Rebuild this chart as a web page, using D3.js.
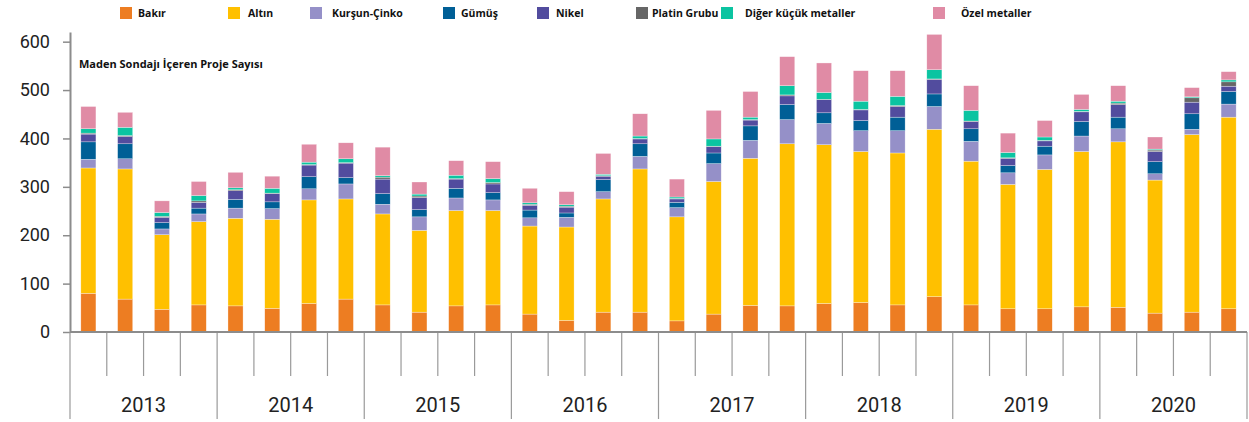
<!DOCTYPE html>
<html>
<head>
<meta charset="utf-8">
<script src="https://cdn.jsdelivr.net/npm/d3@7"></script>
<style>
    body { margin: 0; background: #fff; }
</style>
</head>
<body>
<div class="canvas"></div>
<script>
// kategoriler: yıl x çeyrek
const years = ["2013", "2014", "2015", "2016", "2017", "2018", "2019", "2020"];
const quarters = ["Q1", "Q2", "Q3", "Q4"];

const metals = ["Bakır", "Altın", "Kurşun-Çinko", "Gümüş", "Nikel", "Platin Grubu", "Diğer küçük metaller", "Özel metaller"];
const colors = ["#ED7D22", "#FFC000", "#9590C8", "#005F96", "#524C9E", "#666666", "#0BC4A1", "#E08BA5"];

// seriler (32 çeyrek)
const bakir  = [80, 68, 47, 56, 54, 49, 59, 68, 56, 41, 54, 56, 37, 24, 41, 41, 23, 37, 55, 54, 59, 61, 56, 73, 56, 48, 48, 52, 51, 39, 41, 48];
const altin  = [259, 269, 154, 172, 181, 184, 214, 207, 188, 169, 197, 195, 182, 193, 234, 296, 215, 274, 304, 335, 328, 312, 314, 346, 297, 257, 288, 321, 342, 275, 367, 396];
const kursun = [18, 21, 12, 16, 21, 22, 23, 31, 20, 28, 26, 22, 17, 20, 15, 26, 19, 37, 37, 50, 44, 43, 46, 47, 41, 24, 30, 32, 27, 13, 11, 27];
const gumus  = [36, 31, 13, 12, 18, 14, 25, 13, 22, 15, 20, 15, 16, 9, 25, 26, 11, 22, 30, 31, 22, 21, 28, 26, 26, 15, 18, 30, 24, 25, 32, 26];
const nikel  = [16, 15, 11, 12, 18, 17, 24, 30, 30, 25, 19, 18, 10, 12, 7, 10, 7, 13, 12, 18, 27, 22, 22, 30, 15, 15, 11, 20, 26, 21, 24, 11];
const platin = [2, 2, 2, 3, 2, 1, 1, 1, 4, 3, 1, 3, 2, 2, 1, 1, 1, 1, 1, 2, 1, 1, 2, 1, 1, 1, 1, 1, 3, 3, 9, 9];
const diger  = [9, 17, 8, 11, 4, 10, 5, 8, 3, 4, 7, 8, 3, 3, 3, 5, 3, 15, 5, 19, 14, 17, 19, 19, 22, 11, 7, 4, 4, 2, 2, 4];
const ozel   = [46, 31, 24, 29, 32, 25, 37, 33, 59, 25, 30, 35, 30, 27, 43, 46, 37, 59, 53, 60, 61, 63, 53, 73, 51, 40, 34, 31, 32, 25, 19, 17];

const yTicks = [0, 100, 200, 300, 400, 500, 600];

const series = [bakir, altin, kursun, gumus, nikel, platin, diger, ozel];

const W = 1249, H = 422;
const plotLeft = 70, plotRight = 1247, plotBottom = 332, plotTop = 32;

const svg = d3.select(".canvas")
    .append("svg")
    .attr("width", W)
    .attr("height", H);

// tablo: her çeyrek bir satır
const keys = years.flatMap(yr => quarters.map(q => yr + "-" + q));
const table = keys.map((k, i) => {
    const row = { key: k };
    metals.forEach((m, j) => { row[m] = series[j][i]; });
    return row;
});

const stacked = d3.stack().keys(metals)(table);

const x = d3.scaleBand().domain(keys).range([plotLeft, plotRight]).padding(0);
const xYear = d3.scaleBand().domain(years).range([plotLeft, plotRight]).padding(0);
const y = d3.scaleLinear().domain([0, 620]).range([plotBottom, plotTop]);

const barW = x.bandwidth() * 0.41;

// barlar
svg.append("g")
    .selectAll("g")
    .data(stacked)
    .join("g")
    .attr("fill", (d, i) => colors[i])
    .selectAll("rect")
    .data(d => d)
    .join("rect")
    .attr("x", d => x(d.data.key) + (x.bandwidth() - barW) / 2)
    .attr("y", d => y(d[1]))
    .attr("width", barW)
    .attr("height", d => y(d[0]) - y(d[1]))
    .attr("stroke", "#fff")
    .attr("stroke-opacity", 0.6)
    .attr("stroke-width", 0.5);

// y ekseni
const yAxis = svg.append("g")
    .attr("transform", `translate(${plotLeft},0)`)
    .call(d3.axisLeft(y).tickValues(yTicks).tickSize(7).tickSizeOuter(0).tickPadding(13));
yAxis.select(".domain").attr("stroke", "#8c8c8c").attr("stroke-width", 2);
yAxis.selectAll(".tick line").attr("stroke", "#8c8c8c").attr("stroke-width", 1.5);
yAxis.selectAll(".tick text")
    .attr("fill", "#222")
    .style("font-family", "Roboto, 'Liberation Sans', sans-serif")
    .style("font-size", "18px");

// x ekseni: çeyrek çizgileri + yıl sınırları
const xg = svg.append("g");
xg.selectAll(".q")
    .data(keys.filter((k, i) => i % 4 !== 0))
    .join("line")
    .attr("class", "q")
    .attr("x1", d => x(d)).attr("x2", d => x(d))
    .attr("y1", plotBottom).attr("y2", 376)
    .attr("stroke", "#9a9a9a").attr("stroke-width", 1.2);

xg.selectAll(".yr")
    .data(years.concat(["end"]))
    .join("line")
    .attr("class", "yr")
    .attr("x1", d => d === "end" ? plotRight : xYear(d))
    .attr("x2", d => d === "end" ? plotRight : xYear(d))
    .attr("y1", plotBottom).attr("y2", 419)
    .attr("stroke", "#9a9a9a").attr("stroke-width", 1.2);

xg.append("line")
    .attr("x1", plotLeft).attr("x2", plotRight)
    .attr("y1", plotBottom).attr("y2", plotBottom)
    .attr("stroke", "#8c8c8c").attr("stroke-width", 2);

xg.selectAll(".ylabel")
    .data(years)
    .join("text")
    .attr("class", "ylabel")
    .attr("x", d => xYear(d) + xYear.bandwidth() / 2)
    .attr("y", 412)
    .attr("text-anchor", "middle")
    .attr("fill", "#222")
    .style("font-family", "Roboto, 'Liberation Sans', sans-serif")
    .style("font-size", "20px")
    .text(d => d);

// başlık
svg.append("text")
    .attr("x", 79).attr("y", 68)
    .attr("fill", "#111")
    .style("font-family", "'Open Sans', 'Noto Sans', sans-serif")
    .style("font-weight", "bold")
    .style("font-size", "11px")
    .text("Maden Sondajı İçeren Proje Sayısı");

// lejant
const legendX = [120, 228, 310, 443, 537, 636, 721, 933];
const legendTextDx = [18, 20, 22, 18, 19, 16, 24, 28];
const lg = svg.append("g")
    .selectAll("g")
    .data(metals)
    .join("g")
    .attr("transform", (d, i) => `translate(${legendX[i]},7)`);
lg.append("rect")
    .attr("width", 12).attr("height", 12)
    .attr("fill", (d, i) => colors[i]);
lg.append("text")
    .attr("x", (d, i) => legendTextDx[i])
    .attr("y", 10)
    .attr("fill", "#111")
    .style("font-family", "'Open Sans', 'Noto Sans', sans-serif")
    .style("font-weight", "bold")
    .style("font-size", "10.5px")
    .text(d => d);
</script>
</body>
</html>
